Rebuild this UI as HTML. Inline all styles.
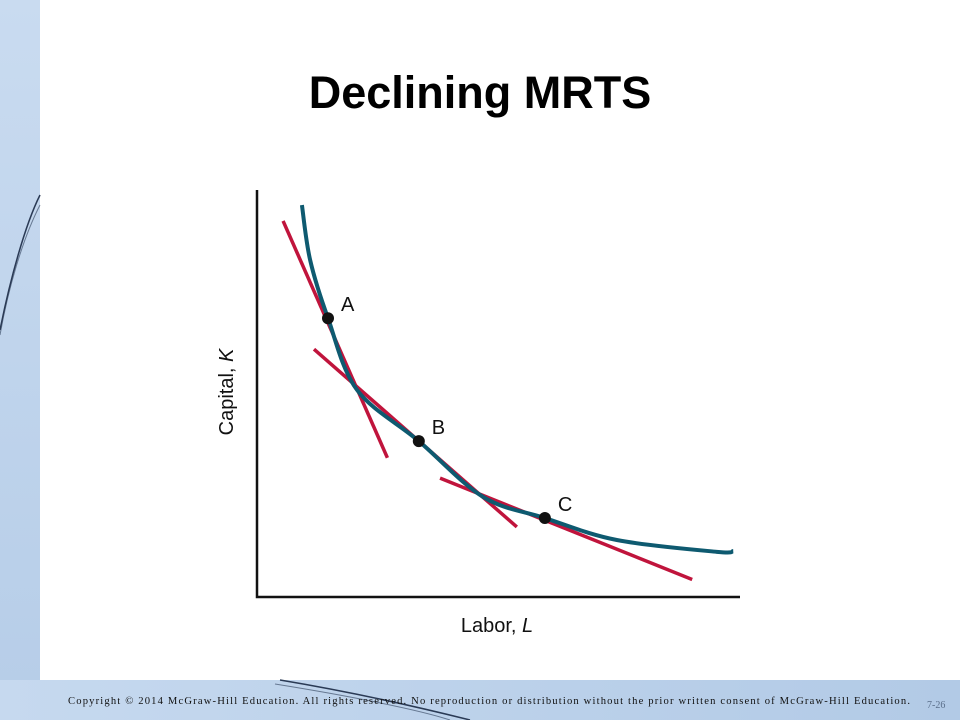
<!DOCTYPE html>
<html><head><meta charset="utf-8"><style>
body{margin:0;width:960px;height:720px;overflow:hidden;background:#fff;font-family:"Liberation Sans",sans-serif}
</style></head><body>
<svg width="960" height="720" viewBox="0 0 960 720" xmlns="http://www.w3.org/2000/svg">
<defs>
<linearGradient id="lg" x1="0" y1="0" x2="0" y2="1"><stop offset="0" stop-color="#c9dbf0"/><stop offset="1" stop-color="#b6cde8"/></linearGradient>
<linearGradient id="bg" x1="0" y1="0" x2="1" y2="0"><stop offset="0" stop-color="#c6d9ef"/><stop offset="1" stop-color="#b2cae6"/></linearGradient>
</defs>
<rect x="0" y="0" width="40" height="720" fill="url(#lg)"/>
<rect x="0" y="680" width="960" height="40" fill="url(#bg)"/>
<g fill="none" stroke="#2a3a55">
<path d="M40 195 C25 225 10 280 0 330" stroke-width="1.5"/>
<path d="M40 205 C22 240 8 290 0 335" stroke-width="1" opacity="0.6"/>
<path d="M280 680 C340 690 410 705 470 720" stroke-width="1.5"/>
<path d="M275 684 C350 696 420 710 450 720" stroke-width="1" opacity="0.6"/>
</g>
<text x="480" y="108" text-anchor="middle" font-family="Liberation Sans, sans-serif" font-weight="bold" font-size="45" fill="#000">Declining MRTS</text>
<g id="chart"></g>
<text x="68" y="704" font-family="Liberation Serif, serif" font-size="10.6" fill="#111" textLength="842">Copyright © 2014 McGraw-Hill Education. All rights reserved. No reproduction or distribution without the prior written consent of McGraw-Hill Education.</text>
<text x="927" y="708" font-family="Liberation Serif, serif" font-size="10" fill="#5a6e8a">7-26</text>
</svg>
<script>
const curveL=[9.3,11,14.7,20.7,33.5,46.8,59.6,74.5,95.2,98.6];
const curveK=[96.3,82.8,68.5,50.9,38.3,24.6,19.4,14.0,11.1,11.3];
const pointNames=["A","B","C"];
const pointL=[14.7,33.5,59.6];
const pointK=[68.5,38.3,19.4];
const tanL1=[5.4,11.8,37.9], tanK1=[92.4,60.9,29.2];
const tanL2=[27,53.8,90.1], tanK2=[34.2,17.2,4.3];

const X0=257,X1=740,Y0=597,Y1=190;
const xs=v=>X0+v*(X1-X0)/100;
const ys=v=>Y0-v*(Y0-Y1)/100;
const NS="http://www.w3.org/2000/svg";
const g=document.getElementById('chart');
function mk(t,a){const e=document.createElementNS(NS,t);for(const k in a)e.setAttribute(k,a[k]);g.appendChild(e);return e;}

let ax=mk('path',{d:`M${X0} ${Y1} L${X0} ${Y0} L${X1} ${Y0}`,fill:'none',stroke:'#111','stroke-width':2.5});



for(let i=0;i<3;i++){
 const l=mk('line',{x1:xs(tanL1[i]),y1:ys(tanK1[i]),x2:xs(tanL2[i]),y2:ys(tanK2[i]),stroke:'#c0143c','stroke-width':3.5});
 
 
}
// Catmull-Rom curve
const P=curveL.map((v,i)=>[xs(v),ys(curveK[i])]);
let d=`M${P[0][0]} ${P[0][1]}`;
for(let i=0;i<P.length-1;i++){
 const p0=P[Math.max(0,i-1)],p1=P[i],p2=P[i+1],p3=P[Math.min(P.length-1,i+2)];
 const c1=[p1[0]+(p2[0]-p0[0])/6,p1[1]+(p2[1]-p0[1])/6];
 const c2=[p2[0]-(p3[0]-p1[0])/6,p2[1]-(p3[1]-p1[1])/6];
 d+=` C${c1[0]} ${c1[1]} ${c2[0]} ${c2[1]} ${p2[0]} ${p2[1]}`;
}
const cv=mk('path',{d:d,fill:'none',stroke:'#0e5a70','stroke-width':4});



for(let i=0;i<3;i++){
 const c=mk('circle',{cx:xs(pointL[i]),cy:ys(pointK[i]),r:6,fill:'#111'});
 
 
 const t=mk('text',{x:xs(pointL[i])+13,y:ys(pointK[i])-7,'font-size':20,fill:'#111','font-family':'Liberation Sans Narrow, Liberation Sans, sans-serif'});
 t.textContent=pointNames[i];
 
 
}
const xl=mk('text',{x:497,y:632,'text-anchor':'middle','font-size':20,fill:'#111','font-family':'Liberation Sans Narrow, Liberation Sans, sans-serif'});
xl.innerHTML='Labor, <tspan font-style="italic">L</tspan>';


const yl=mk('text',{x:0,y:0,transform:'translate(233 392) rotate(-90)','text-anchor':'middle','font-size':20,fill:'#111','font-family':'Liberation Sans Narrow, Liberation Sans, sans-serif'});
yl.innerHTML='Capital, <tspan font-style="italic">K</tspan>';


</script>
</body></html>
